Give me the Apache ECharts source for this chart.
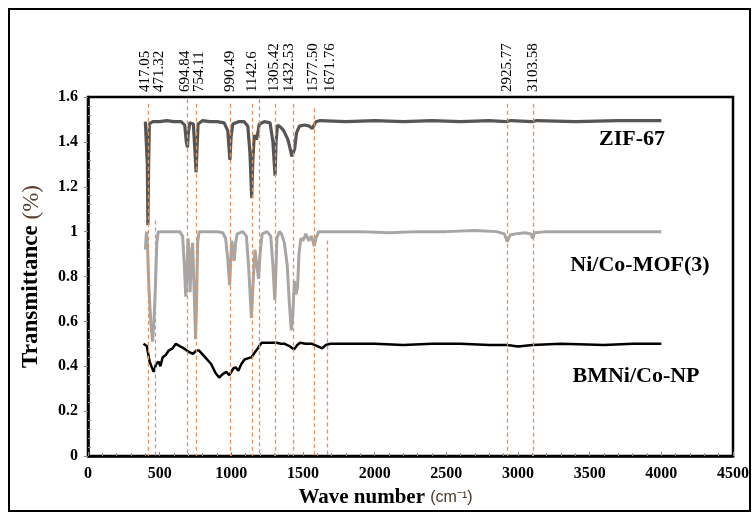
<!DOCTYPE html>
<html>
<head>
<meta charset="utf-8">
<script src="https://cdn.jsdelivr.net/npm/echarts@6/dist/echarts.min.js"></script>
<style>html,body{margin:0;padding:0;background:#fff;}#c{width:755px;height:519px;}</style>
</head>
<body>
<div id="c"></div>
<script>
// ---- data ----
const xTicks = [0, 500, 1000, 1500, 2000, 2500, 3000, 3500, 4000, 4500];
const yTicks = [0, 0.2, 0.4, 0.6, 0.8, 1, 1.2, 1.4, 1.6];

const zif67 = [
  [400,1.49],[410,1.49],[414,1.30],[418,1.03],[423,1.30],[428,1.48],[450,1.49],[500,1.49],[550,1.495],[600,1.49],
  [650,1.49],[675,1.475],[686,1.40],[694,1.375],[700,1.44],[710,1.485],[735,1.48],[746,1.36],[754,1.265],[760,1.36],
  [768,1.48],[800,1.495],[850,1.49],[900,1.49],[950,1.485],[975,1.45],[990,1.32],[998,1.42],[1010,1.48],[1050,1.49],
  [1090,1.49],[1115,1.47],[1130,1.35],[1142,1.15],[1150,1.32],[1160,1.43],[1175,1.41],[1185,1.44],[1195,1.48],[1230,1.49],
  [1270,1.485],[1290,1.40],[1305,1.25],[1312,1.40],[1322,1.475],[1345,1.465],[1365,1.45],[1380,1.43],[1395,1.41],[1410,1.37],
  [1422,1.335],[1432,1.33],[1442,1.37],[1455,1.44],[1475,1.47],[1510,1.475],[1545,1.47],[1565,1.46],[1577,1.46],[1590,1.49],
  [1620,1.495],[1800,1.49],[2000,1.495],[2200,1.49],[2400,1.495],[2600,1.49],[2800,1.495],[2915,1.49],[2928,1.485],[2950,1.495],
  [3100,1.49],[3108,1.485],[3130,1.495],[3400,1.49],[3700,1.495],[4000,1.495]
];

const niCoMof3 = [
  [400,0.92],[408,1.0],[414,0.95],[425,0.75],[438,0.60],[450,0.51],[460,0.60],[470,0.75],[480,0.95],[490,1.0],
  [550,1.0],[600,1.0],[640,1.0],[660,0.98],[672,0.85],[682,0.71],[690,0.80],[697,0.97],[705,0.92],[712,0.73],
  [720,0.85],[730,0.95],[740,0.75],[750,0.52],[758,0.70],[765,0.95],[775,1.0],[850,1.0],[900,1.0],[940,0.995],
  [960,0.97],[975,0.88],[988,0.76],[995,0.86],[1003,0.96],[1010,0.93],[1020,0.87],[1030,0.95],[1040,0.99],[1080,1.0],
  [1105,0.98],[1120,0.85],[1140,0.615],[1150,0.75],[1165,0.92],[1178,0.85],[1190,0.79],[1200,0.90],[1215,0.99],[1250,1.0],
  [1275,0.98],[1290,0.85],[1303,0.695],[1310,0.80],[1318,0.97],[1335,1.0],[1350,0.99],[1370,0.95],[1390,0.85],[1405,0.68],
  [1418,0.56],[1428,0.62],[1440,0.78],[1450,0.72],[1462,0.75],[1472,0.90],[1485,0.97],[1500,0.96],[1520,0.99],[1540,0.96],
  [1560,0.98],[1578,0.935],[1590,0.97],[1610,1.0],[1700,1.0],[1900,1.0],[2100,0.995],[2300,1.0],[2500,1.0],[2700,1.005],
  [2850,1.0],[2905,0.99],[2925,0.955],[2945,0.985],[2980,0.99],[3050,0.995],[3090,0.99],[3103,0.97],[3115,0.995],[3200,1.0],
  [3500,1.0],[3800,1.0],[4000,1.0]
];

const bmNiCoNP = [
  [387,0.50],[410,0.49],[430,0.42],[458,0.375],[475,0.41],[493,0.42],[505,0.40],[521,0.44],[542,0.45],[563,0.47],
  [590,0.48],[613,0.50],[640,0.49],[669,0.48],[700,0.465],[732,0.455],[755,0.47],[775,0.47],[810,0.445],[859,0.41],
  [890,0.37],[915,0.35],[940,0.365],[965,0.375],[986,0.36],[1014,0.39],[1030,0.395],[1049,0.38],[1070,0.41],[1092,0.43],
  [1115,0.435],[1141,0.44],[1162,0.46],[1185,0.48],[1211,0.505],[1260,0.505],[1317,0.505],[1345,0.50],[1373,0.50],[1405,0.49],
  [1437,0.475],[1460,0.495],[1479,0.505],[1520,0.50],[1563,0.50],[1600,0.49],[1634,0.48],[1660,0.495],[1690,0.50],[1800,0.50],
  [2000,0.50],[2200,0.495],[2400,0.50],[2600,0.50],[2800,0.495],[2925,0.495],[3000,0.488],[3100,0.495],[3300,0.50],[3600,0.495],
  [3800,0.50],[4000,0.50]
];

const peakLabels = ['417.05','471.32','694.84','754.11','990.49','1142.6','1305.42','1432.53','1577.50','1671.76','2925.77','3103.58'];
const peakValues = [417.05, 471.32, 694.84, 754.11, 990.49, 1142.6, 1305.42, 1432.53, 1577.50, 1671.76, 2925.77, 3103.58];
const peakLineTops = [1.57, 1.05, 1.59, 1.57, 1.57, 1.57, 1.57, 1.57, 1.55, 0.96, 1.57, 1.57];
const extraLineValues = [1195];
const extraLineTops = [1.59];

const seriesNames = ['ZIF-67', 'Ni/Co-MOF(3)', 'BMNi/Co-NP'];

// ---- layout / style ----
const labelNudgePx = [-3, 4, -3, 3, 0, 0, -1, -4, -1, 2, 0, 0];
const serif = 'Liberation Serif, Times New Roman, serif';
const dashColor = '#E0935F';

const chart = echarts.init(document.getElementById('c'), null, {renderer: 'canvas'});

const lineData = [];
peakValues.forEach((v, i) => lineData.push([{coord: [v, peakLineTops[i]]}, {coord: [v, 0]}]));
extraLineValues.forEach((v, i) => lineData.push([{coord: [v, extraLineTops[i]]}, {coord: [v, 0]}]));

const option = {
  animation: false,
  backgroundColor: '#fff',
  grid: {left: 88, right: 22, top: 97, bottom: 63, show: true, borderColor: '#000', borderWidth: 2.5, backgroundColor: 'transparent'},
  xAxis: [{
    type: 'value', min: xTicks[0], max: xTicks[xTicks.length - 1], interval: 500,
    name: 'Wave number {u|(cm⁻¹)}', nameLocation: 'middle', nameGap: 27,
    nameTextStyle: {fontFamily: serif, fontWeight: 'bold', fontSize: 21, color: '#000', padding: [0, 50, 0, 0],
      rich: {u: {fontFamily: 'Liberation Sans, Arial, sans-serif', fontWeight: 'normal', fontSize: 16, color: '#4a3328'}}},
    axisLine: {show: true, lineStyle: {color: '#000', width: 2.5}},
    axisTick: {show: true, inside: true, length: 4, lineStyle: {color: '#888'}},
    minorTick: {show: true, splitNumber: 5, length: 3, lineStyle: {color: '#999'}},
    axisLabel: {fontFamily: serif, fontWeight: 'bold', fontSize: 16, color: '#000', margin: 10, formatter: v => String(v)},
    splitLine: {show: false}
  }],
  yAxis: [{
    type: 'value', min: yTicks[0], max: yTicks[yTicks.length - 1], interval: 0.2,
    name: 'Transmittance {p|(%)}', nameLocation: 'middle', nameGap: 45, nameRotate: 90,
    nameTextStyle: {fontFamily: serif, fontWeight: 'bold', fontSize: 23, color: '#000',
      rich: {p: {fontFamily: serif, fontWeight: 'normal', fontSize: 23, color: '#5a4035'}}},
    axisLine: {show: true, lineStyle: {color: '#000', width: 2.5}},
    axisTick: {show: true, inside: false, length: 4, lineStyle: {color: '#888'}},
    axisLabel: {fontFamily: serif, fontWeight: 'bold', fontSize: 16, color: '#000', margin: 10},
    splitLine: {show: false}
  }, {
    type: 'value', position: 'left', min: yTicks[0], max: yTicks[yTicks.length - 1], interval: 0.2,
    axisLine: {show: false}, axisTick: {show: false, inside: true}, axisLabel: {show: false},
    minorTick: {show: true, splitNumber: 5, length: 3, lineStyle: {color: '#999'}},
    splitLine: {show: false}
  }],
  series: [
    {name: seriesNames[0], type: 'line', data: zif67, showSymbol: false, symbol: 'none', lineStyle: {color: '#555555', width: 3.2}, z: 3},
    {name: seriesNames[1], type: 'line', data: niCoMof3, showSymbol: false, symbol: 'none', lineStyle: {color: '#A6A6A6', width: 3}, z: 2},
    {name: seriesNames[2], type: 'line', data: bmNiCoNP, showSymbol: false, symbol: 'none', lineStyle: {color: '#000', width: 2.5}, z: 4},
    {name: 'peaks', type: 'line', data: [], z: 6, silent: true,
      markLine: {silent: true, symbol: 'none', animation: false, label: {show: false},
        lineStyle: {color: dashColor, width: 1.3, type: [4, 3]}, data: lineData}}
  ]
};
chart.setOption(option);

const graphics = [
  {type: 'rect', shape: {x: 9, y: 9, width: 741, height: 502}, style: {fill: 'none', stroke: '#000', lineWidth: 2}, silent: true, z: 0},
  {type: 'text', x: 632, y: 139, style: {text: seriesNames[0], font: 'bold 22px ' + serif, fill: '#000', textAlign: 'center', textVerticalAlign: 'middle'}},
  {type: 'text', x: 640, y: 265, style: {text: seriesNames[1], font: 'bold 22px ' + serif, fill: '#000', textAlign: 'center', textVerticalAlign: 'middle'}},
  {type: 'text', x: 636, y: 376, style: {text: seriesNames[2], font: 'bold 22px ' + serif, fill: '#000', textAlign: 'center', textVerticalAlign: 'middle'}}
];
peakValues.forEach((v, i) => {
  const px = chart.convertToPixel({xAxisIndex: 0}, v) + labelNudgePx[i];
  graphics.push({type: 'text', x: px, y: 92, rotation: Math.PI / 2,
    style: {text: peakLabels[i], font: '15px ' + serif, fill: '#000', textAlign: 'left', textVerticalAlign: 'middle'}});
});
chart.setOption({graphic: graphics});
</script>
</body>
</html>
